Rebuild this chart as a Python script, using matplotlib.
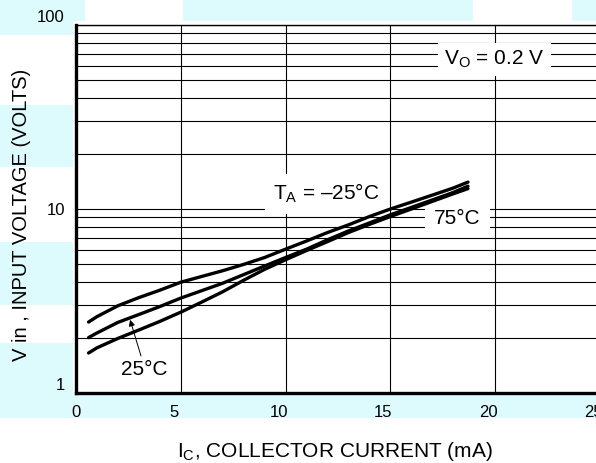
import matplotlib
matplotlib.use('Agg')
import matplotlib.pyplot as plt
from matplotlib.patches import Rectangle
from matplotlib.ticker import LogLocator, NullFormatter, FixedLocator
from matplotlib.transforms import ScaledTranslation

plt.rcParams['font.family'] = ['Liberation Sans', 'DejaVu Sans']
plt.rcParams['mathtext.fontset'] = 'custom'
plt.rcParams['mathtext.rm'] = 'Liberation Sans'
plt.rcParams['mathtext.it'] = 'Liberation Sans'

# ---- data ----
ic_ma = [0.6, 1, 2, 3, 4, 5, 6, 7, 8, 9, 10, 11, 12, 13, 14, 15, 16, 17, 18, 18.7]
vin_m25 = [2.43, 2.60, 2.98, 3.30, 3.62, 4.00, 4.30, 4.62, 5.00, 5.45, 6.05, 6.70,
           7.45, 8.20, 9.10, 10.0, 10.9, 11.9, 13.0, 14.0]
vin_25 = [2.00, 2.12, 2.42, 2.67, 2.95, 3.28, 3.60, 3.95, 4.40, 4.90, 5.45, 6.05,
          6.80, 7.60, 8.40, 9.30, 10.2, 11.2, 12.3, 13.3]
vin_75 = [1.65, 1.76, 1.98, 2.20, 2.45, 2.75, 3.12, 3.55, 4.10, 4.70, 5.30, 5.95,
          6.65, 7.45, 8.25, 9.10, 10.0, 11.0, 12.1, 12.9]

x_ticks = [0, 5, 10, 15, 20, 25]
x_tick_labels = ['0', '5', '10', '15', '20', '25']
y_ticks = [1, 10, 100]
y_tick_labels = ['1', '10', '100']

W, H = 596, 463
fig = plt.figure(figsize=(W / 100, H / 100), dpi=100)

# light watermark bands in the background
cyan = '#ddfafd'
for (x0, y0, x1, y1) in [(0, 0, 85, 21), (0, 0, 73, 35), (183, 0, 473, 21), (572, 0, 596, 21),
                         (0, 105, 73, 167), (0, 242, 73, 305), (0, 343, 73, 418),
                         (0, 395, 596, 418)]:
    fig.add_artist(Rectangle((x0 / W, 1 - y1 / H), (x1 - x0) / W, (y1 - y0) / H,
                             transform=fig.transFigure, facecolor=cyan, edgecolor='none',
                             zorder=-5))

ax = fig.add_axes([76 / W, (H - 393) / H, (600 - 76) / W, 368 / H])
ax.set_yscale('log')
ax.set_xlim(0, 25)
ax.set_ylim(1, 100)

ax.xaxis.set_major_locator(FixedLocator(x_ticks))
ax.set_xticklabels(x_tick_labels)
ax.yaxis.set_major_locator(FixedLocator(y_ticks))
ax.set_yticklabels(y_tick_labels)
ax.yaxis.set_minor_locator(LogLocator(base=10, subs=range(2, 10)))
ax.yaxis.set_minor_formatter(NullFormatter())

ax.tick_params(axis='both', which='both', length=0, labelsize=12, colors='black')
ax.tick_params(axis='y', pad=8)
ax.tick_params(axis='x', pad=8.5)
ylabels = ax.get_yticklabels()
ylabels[0].set_va('bottom')
ylabels[-1].set_va('bottom')
shift = ScaledTranslation(-7 / 100, 0, fig.dpi_scale_trans)
for lab in ax.get_xticklabels()[1:]:
    lab.set_transform(lab.get_transform() + shift)

ax.grid(True, axis='y', which='both', color='black', linewidth=0.8, zorder=1)
ax.grid(True, axis='x', which='major', color='black', linewidth=0.8, zorder=1)
ax.set_axisbelow(True)

for side in ['left', 'bottom']:
    ax.spines[side].set_linewidth(2.4)
ax.spines['top'].set_linewidth(1.0)
ax.spines['right'].set_visible(False)

for vals in (vin_m25, vin_25, vin_75):
    ax.plot(ic_ma, vals, color='black', linewidth=2.4, solid_capstyle='round',
            solid_joinstyle='round', zorder=4)

fs = 15
ax.text(11.93, 12.1, r'T$_{\mathrm{A}}$ = –25°C', fontsize=fs, ha='center', va='center',
        bbox=dict(boxstyle='square,pad=0.4', facecolor='white', edgecolor='none'), zorder=3)
ax.text(19.95, 65, r'V$_{\mathrm{O}}$ = 0.2 V', fontsize=fs, ha='center', va='center',
        bbox=dict(boxstyle='square,pad=0.3', facecolor='white', edgecolor='none'), zorder=3)
ax.text(18.2, 8.87, '75°C', fontsize=fs, ha='center', va='center',
        bbox=dict(boxstyle='square,pad=0.45', facecolor='white', edgecolor='none'), zorder=3)
ax.text(3.25, 1.34, '25°C', fontsize=fs, ha='center', va='center', zorder=3)
ax.annotate('', xy=(2.58, 2.5), xytext=(3.1, 1.59),
            arrowprops=dict(arrowstyle='-|>', color='black', lw=0.7, mutation_scale=9,
                            shrinkA=0, shrinkB=0), zorder=5)

ax.set_xlabel(r'I$_{\mathrm{ C}}$, COLLECTOR CURRENT (mA)', fontsize=15)
ax.xaxis.set_label_coords(0.494, -0.127)
ax.set_ylabel('V in , INPUT VOLTAGE (VOLTS)', fontsize=14.5)
ax.yaxis.set_label_coords(-0.085, 0.484)

fig.savefig('out.png', dpi=100)
